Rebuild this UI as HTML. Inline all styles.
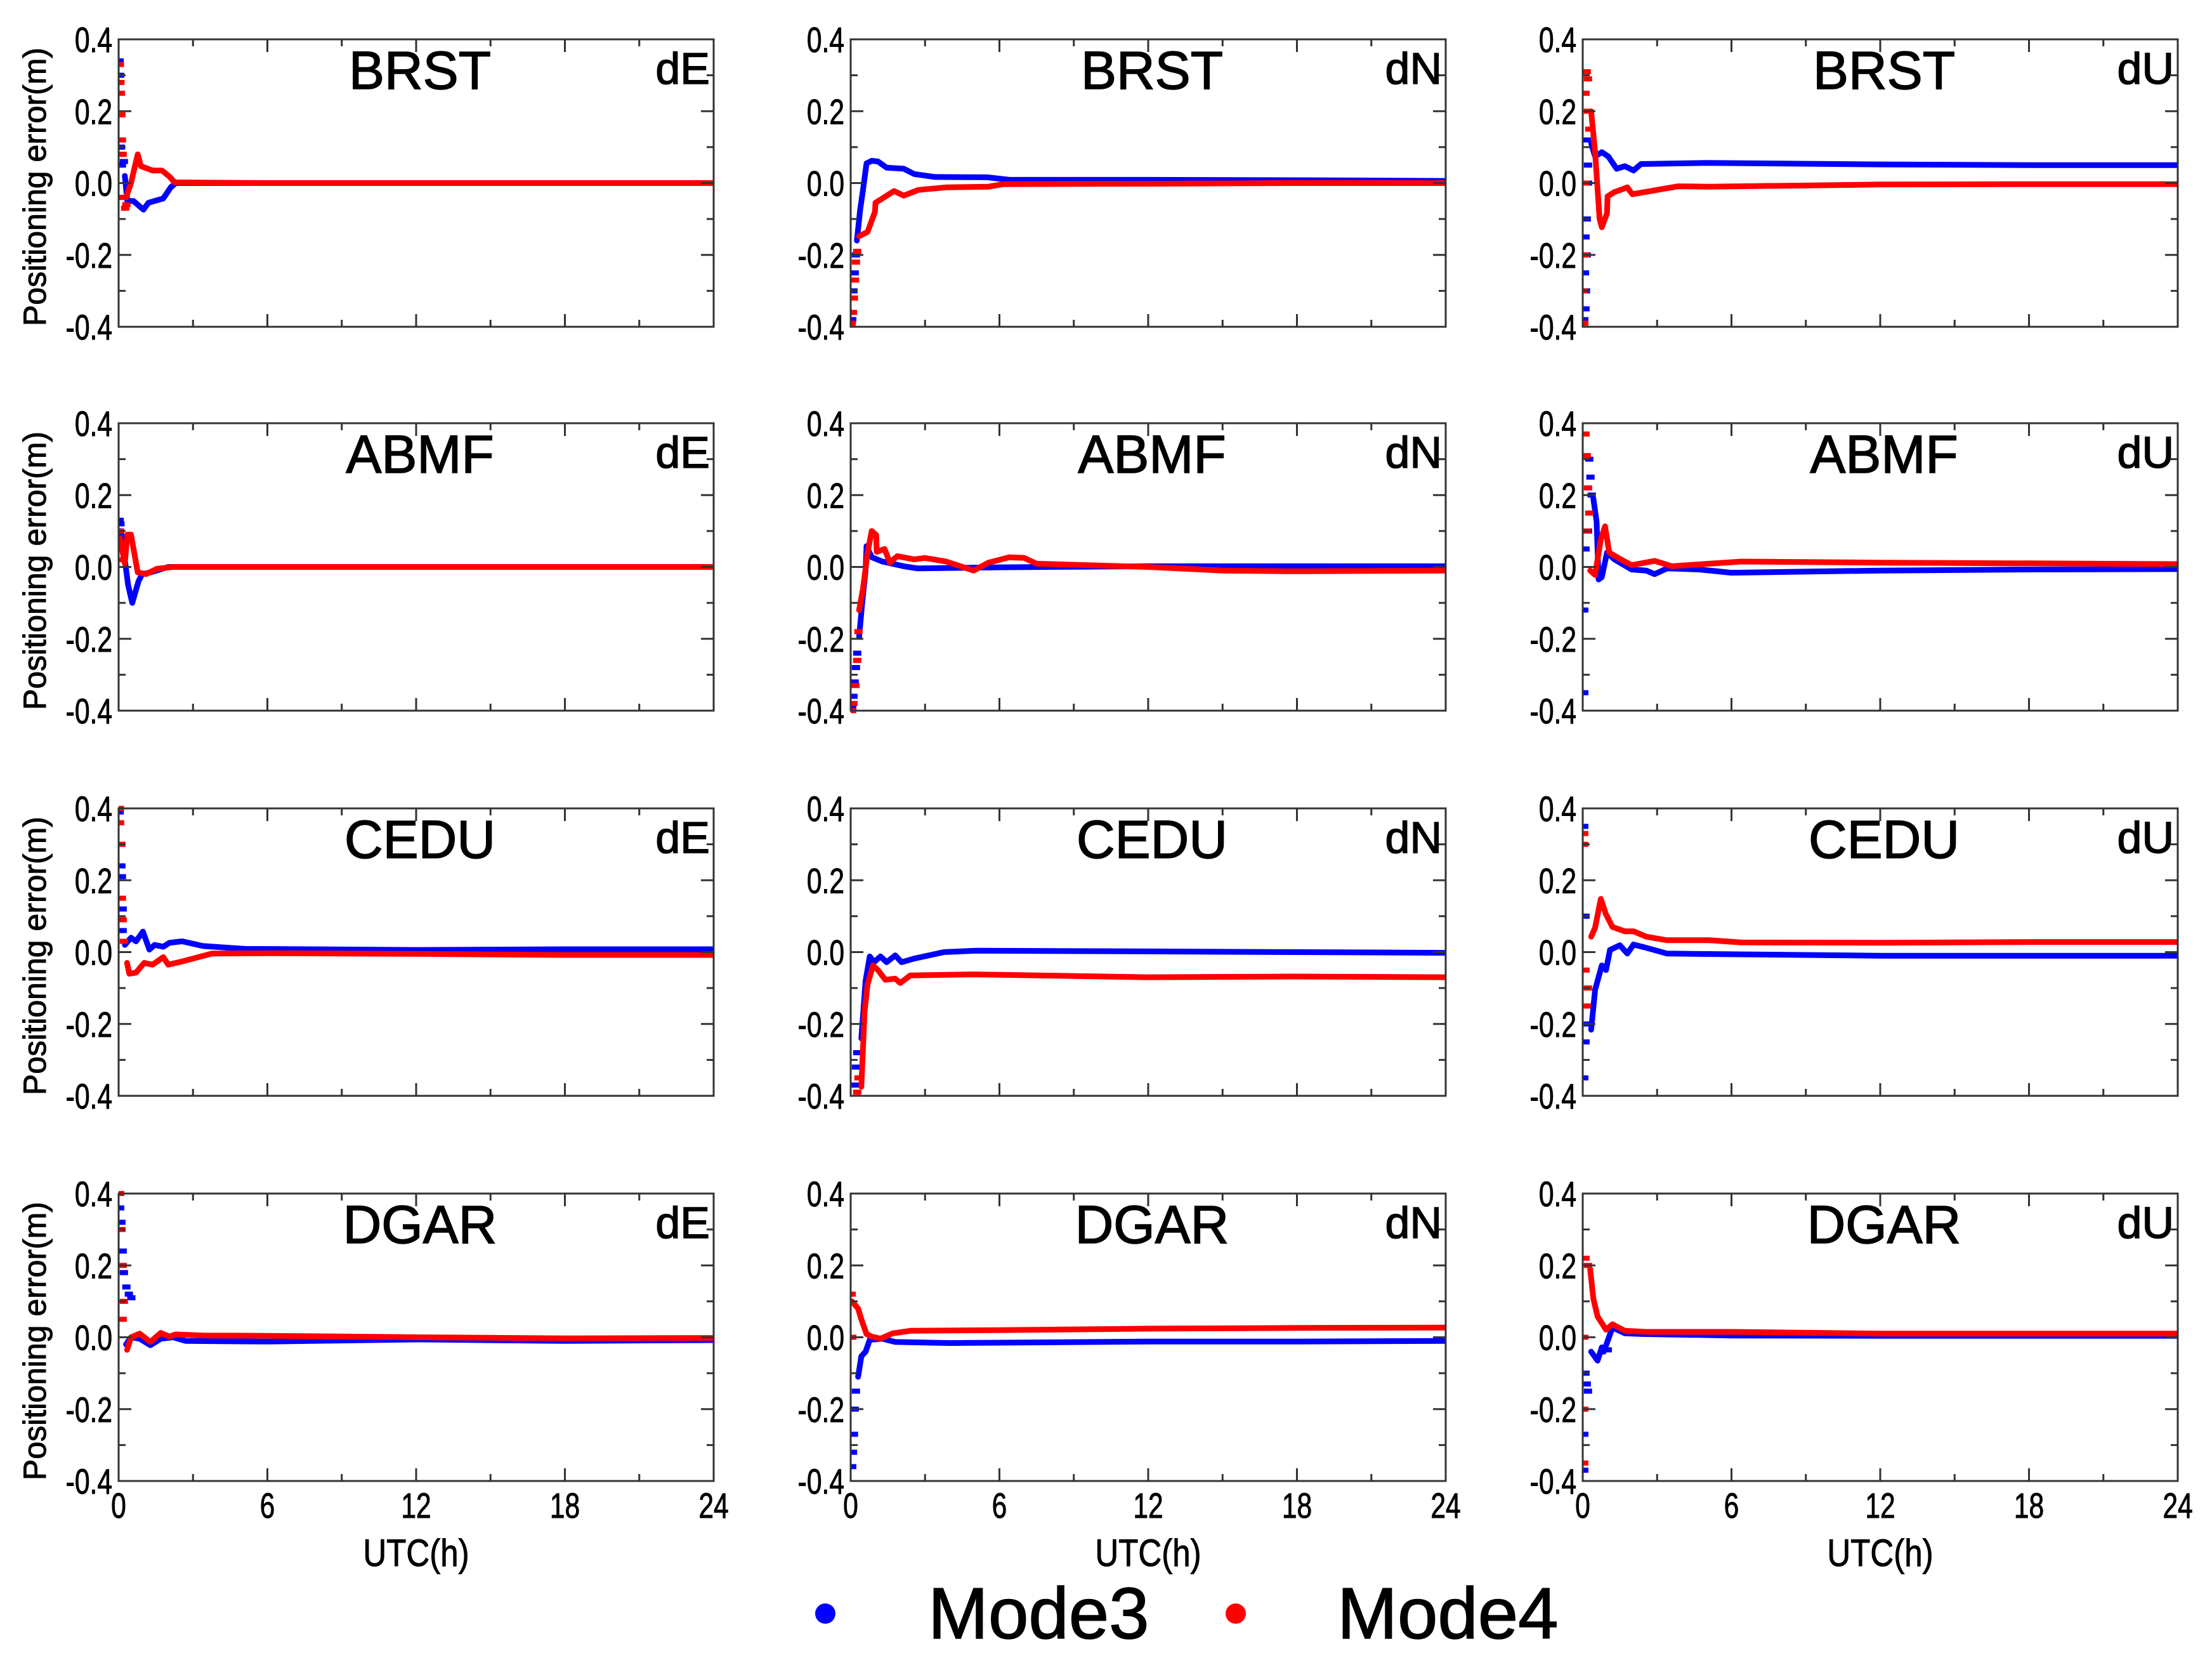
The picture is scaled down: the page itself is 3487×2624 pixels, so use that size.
<!DOCTYPE html>
<html><head><meta charset="utf-8"><style>
html,body{margin:0;padding:0;background:#fff;}
svg{display:block;font-family:"Liberation Sans",sans-serif;}
</style></head><body>
<svg id="fig" width="3487" height="2624" viewBox="0 0 3487 2624" xmlns="http://www.w3.org/2000/svg"></svg>
<script>
// ---- data (t in hours, v in metres) ----
const stations = ["BRST","ABMF","CEDU","DGAR"];
const components = ["dE","dN","dU"];
const xTicks = [0,6,12,18,24];
const xMinorTicks = [3,9,15,21];
const yTicks = [-0.4,-0.2,0.0,0.2,0.4];
const yMinorTicks = [-0.3,-0.1,0.1,0.3];
const yTickLabels = ["-0.4","-0.2","0.0","0.2","0.4"];

// BRST
const brstE_m3 = [[0.25,0.02],[0.35,-0.05],[0.6,-0.05],[1.0,-0.074],[1.2,-0.055],[1.8,-0.043],[2.1,-0.012],[2.3,0],[6,0],[12,0],[18,0],[24,0]];
const brstE_m4 = [[0.3,-0.04],[0.5,0],[0.77,0.08],[0.9,0.047],[1.37,0.035],[1.75,0.035],[2.05,0.018],[2.26,0.002],[6,0],[12,0],[18,0],[24,0]];
const brstE_m3s = [[0.03,0.34],[0.05,0.3],[0.08,0.1],[0.1,0.08],[0.12,0.05],[0.15,-0.04],[0.2,0.06]];
const brstE_m4s = [[0.04,0.33],[0.06,0.28],[0.08,0.25],[0.1,0.19],[0.12,0.12],[0.15,0.08],[0.2,-0.04],[0.25,-0.07],[0.3,-0.06]];
const brstN_m3 = [[0.25,-0.16],[0.38,-0.075],[0.5,-0.018],[0.64,0.055],[0.85,0.062],[1.1,0.06],[1.45,0.043],[2.14,0.04],[2.56,0.025],[3.4,0.017],[5.5,0.016],[6.4,0.009],[12,0.009],[18,0.008],[24,0.006]];
const brstN_m4 = [[0.34,-0.148],[0.68,-0.136],[0.98,-0.08],[1.0,-0.055],[1.28,-0.043],[1.75,-0.022],[2.14,-0.035],[2.73,-0.019],[3.85,-0.012],[5.56,-0.01],[6.15,-0.003],[12,-0.002],[18,0],[24,0]];
const brstN_m3s = [[0.05,-0.38],[0.1,-0.3],[0.15,-0.25],[0.2,-0.2]];
const brstN_m4s = [[0.03,-0.39],[0.08,-0.36],[0.12,-0.32],[0.16,-0.27],[0.2,-0.22],[0.25,-0.19]];
const brstU_m3 = [[0.34,0.11],[0.5,0.074],[0.77,0.086],[1.03,0.074],[1.37,0.04],[1.7,0.047],[2.05,0.035],[2.35,0.053],[5.0,0.056],[12,0.052],[18,0.05],[24,0.05]];
const brstU_m4 = [[0.34,0.2],[0.5,0.086],[0.68,-0.1],[0.77,-0.123],[0.98,-0.084],[1.0,-0.037],[1.28,-0.025],[1.8,-0.012],[2.0,-0.031],[3.0,-0.019],[3.85,-0.009],[5.1,-0.01],[12,-0.004],[18,-0.003],[24,-0.003]];
const brstU_m3s = [[0.05,-0.38],[0.1,-0.35],[0.12,-0.3],[0.08,-0.25],[0.15,-0.2],[0.1,-0.15],[0.15,-0.1],[0.2,0.0],[0.15,0.12],[0.2,0.05]];
const brstU_m4s = [[0.05,-0.39],[0.03,-0.3],[0.1,-0.2],[0.15,0.31],[0.2,0.29],[0.1,0.25],[0.2,0.2],[0.25,0.15],[0.1,0.0]];
// ABMF
const abmfE_m3 = [[0.1,0.1],[0.38,-0.05],[0.55,-0.1],[0.8,-0.04],[0.95,-0.02],[1.3,-0.015],[2.0,0],[6,0],[12,0],[18,0],[24,0]];
const abmfE_m4 = [[0.05,0.08],[0.25,0.01],[0.35,0.09],[0.5,0.09],[0.77,-0.015],[1.1,-0.02],[1.55,-0.005],[2.2,0],[6,0],[12,0],[18,0],[24,0]];
const abmfE_m3s = [[0.03,0.13],[0.06,0.12],[0.1,0.06]];
const abmfE_m4s = [[0.05,0.1],[0.1,0.05],[0.15,0.02]];
const abmfN_m3 = [[0.34,-0.195],[0.47,-0.096],[0.6,-0.01],[0.64,0.058],[0.85,0.027],[1.28,0.015],[2.14,0.002],[2.7,-0.004],[6,-0.001],[12,0.002],[18,0.002],[24,0.002]];
const abmfN_m4 = [[0.34,-0.12],[0.5,-0.06],[0.68,0.04],[0.85,0.1],[1.03,0.089],[1.05,0.042],[1.37,0.05],[1.58,0.012],[1.88,0.03],[2.56,0.021],[2.99,0.025],[3.85,0.015],[4.96,-0.01],[5.56,0.012],[6.4,0.027],[7.0,0.025],[7.5,0.009],[12,0],[15,-0.01],[18,-0.012],[24,-0.01]];
const abmfN_m3s = [[0.05,-0.39],[0.1,-0.36],[0.15,-0.32],[0.2,-0.28],[0.25,-0.24]];
const abmfN_m4s = [[0.04,-0.4],[0.1,-0.38],[0.18,-0.33],[0.25,-0.26],[0.3,-0.18]];
const abmfU_m3 = [[0.43,0.19],[0.56,0.126],[0.64,-0.035],[0.77,-0.028],[0.98,0.04],[1.28,0.021],[1.97,-0.007],[2.56,-0.01],[2.9,-0.02],[3.4,-0.004],[4.7,-0.007],[6.0,-0.016],[12,-0.01],[18,-0.007],[24,-0.006]];
const abmfU_m4 = [[0.3,-0.01],[0.5,-0.022],[0.73,0.077],[0.9,0.113],[1.07,0.04],[1.54,0.021],[1.97,0.005],[2.9,0.017],[3.6,0.002],[5.1,0.009],[6.4,0.015],[12,0.012],[18,0.01],[24,0.008]];
const abmfU_m3s = [[0.05,-0.35],[0.05,-0.12],[0.25,0.3],[0.3,0.25],[0.35,0.2],[0.2,0.1],[0.1,0.05]];
const abmfU_m4s = [[0.1,0.37],[0.15,0.31],[0.2,0.22],[0.25,0.15],[0.15,0.1]];
// CEDU
const ceduE_m3 = [[0.25,0.02],[0.5,0.04],[0.7,0.03],[0.98,0.057],[1.24,0.007],[1.45,0.02],[1.8,0.015],[2.05,0.026],[2.56,0.03],[3.4,0.017],[5.1,0.009],[12,0.006],[18,0.008],[24,0.008]];
const ceduE_m4 = [[0.34,-0.03],[0.43,-0.06],[0.7,-0.057],[1.03,-0.03],[1.37,-0.035],[1.8,-0.014],[2.0,-0.035],[2.56,-0.026],[3.76,-0.004],[6,-0.003],[12,-0.005],[18,-0.008],[24,-0.008]];
const ceduE_m3s = [[0.03,0.39],[0.08,0.3],[0.1,0.24],[0.12,0.21],[0.15,0.12],[0.15,0.06]];
const ceduE_m4s = [[0.04,0.4],[0.05,0.36],[0.1,0.3],[0.12,0.15],[0.15,0.09],[0.2,0.03]];
const ceduN_m3 = [[0.43,-0.24],[0.6,-0.08],[0.77,-0.012],[0.94,-0.028],[1.2,-0.012],[1.45,-0.028],[1.8,-0.009],[2.05,-0.028],[2.56,-0.018],[3.76,0],[5.1,0.004],[12,0.002],[18,0],[24,-0.002]];
const ceduN_m4 = [[0.43,-0.375],[0.56,-0.166],[0.68,-0.09],[0.9,-0.037],[1.1,-0.05],[1.4,-0.077],[1.8,-0.074],[2.0,-0.086],[2.4,-0.065],[4.96,-0.062],[12,-0.07],[18,-0.068],[24,-0.07]];
const ceduN_m3s = [[0.15,-0.37],[0.2,-0.32],[0.25,-0.28]];
const ceduN_m4s = [[0.25,-0.39],[0.3,-0.35]];
const ceduU_m3 = [[0.34,-0.216],[0.5,-0.105],[0.77,-0.037],[0.94,-0.05],[1.1,0.006],[1.5,0.019],[1.8,-0.004],[2.05,0.021],[2.56,0.012],[3.4,-0.004],[6.0,-0.006],[12,-0.01],[18,-0.01],[24,-0.01]];
const ceduU_m4 = [[0.34,0.043],[0.5,0.068],[0.73,0.148],[0.94,0.105],[1.2,0.07],[1.7,0.058],[2.05,0.058],[2.56,0.043],[3.4,0.033],[5.1,0.033],[6.4,0.027],[12,0.026],[18,0.028],[24,0.028]];
const ceduU_m3s = [[0.05,0.35],[0.05,-0.35],[0.1,-0.25],[0.15,-0.2],[0.2,-0.15],[0.1,0.1]];
const ceduU_m4s = [[0.05,0.33],[0.05,0.3],[0.1,-0.05],[0.15,-0.15],[0.2,-0.1]];
// DGAR
const dgarE_m3 = [[0.3,-0.02],[0.5,0],[0.85,-0.004],[1.28,-0.022],[1.7,-0.004],[2.2,0],[2.7,-0.01],[6,-0.012],[12,-0.006],[18,-0.01],[24,-0.008]];
const dgarE_m4 = [[0.34,-0.035],[0.5,0],[0.85,0.01],[1.28,-0.013],[1.7,0.012],[2.05,0.002],[2.3,0.008],[3.4,0.005],[6,0.004],[12,0],[18,-0.003],[24,-0.002]];
const dgarE_m3s = [[0.05,0.36],[0.1,0.32],[0.15,0.24],[0.2,0.18],[0.3,0.14],[0.4,0.12],[0.5,0.11]];
const dgarE_m4s = [[0.05,0.4],[0.1,0.3],[0.15,0.2],[0.2,0.1],[0.15,0.05]];
const dgarN_m3 = [[0.3,-0.11],[0.43,-0.053],[0.6,-0.04],[0.77,-0.007],[1.28,-0.004],[1.8,-0.013],[4.0,-0.016],[12,-0.012],[18,-0.012],[24,-0.01]];
const dgarN_m4 = [[0.05,0.1],[0.3,0.08],[0.43,0.05],[0.64,0.009],[0.85,0.002],[1.2,-0.004],[1.7,0.011],[2.4,0.018],[6,0.02],[12,0.024],[18,0.026],[24,0.027]];
const dgarN_m3s = [[0.05,-0.36],[0.08,-0.32],[0.12,-0.27],[0.15,-0.2],[0.2,-0.15]];
const dgarN_m4s = [[0.03,0.12],[0.05,0.0]];
const dgarU_m3 = [[0.34,-0.04],[0.6,-0.065],[0.77,-0.028],[0.85,-0.04],[1.2,0.027],[1.7,0.011],[2.4,0.009],[6,0.005],[12,0.004],[24,0.004]];
const dgarU_m4 = [[0.3,0.19],[0.43,0.107],[0.6,0.058],[0.94,0.021],[1.2,0.036],[1.7,0.018],[2.56,0.015],[6,0.015],[12,0.01],[18,0.01],[24,0.01]];
const dgarU_m3s = [[0.1,-0.1],[0.15,-0.13],[0.2,-0.15],[0.05,-0.27],[0.05,-0.37],[1.0,-0.035]];
const dgarU_m4s = [[0.1,0.22],[0.2,0.2],[0.05,-0.2],[0.05,-0.35],[0.05,0.0]];

const panelSeries = {
  BRST:{dE:[brstE_m3,brstE_m4,brstE_m3s,brstE_m4s],dN:[brstN_m3,brstN_m4,brstN_m3s,brstN_m4s],dU:[brstU_m3,brstU_m4,brstU_m3s,brstU_m4s]},
  ABMF:{dE:[abmfE_m3,abmfE_m4,abmfE_m3s,abmfE_m4s],dN:[abmfN_m3,abmfN_m4,abmfN_m3s,abmfN_m4s],dU:[abmfU_m3,abmfU_m4,abmfU_m3s,abmfU_m4s]},
  CEDU:{dE:[ceduE_m3,ceduE_m4,ceduE_m3s,ceduE_m4s],dN:[ceduN_m3,ceduN_m4,ceduN_m3s,ceduN_m4s],dU:[ceduU_m3,ceduU_m4,ceduU_m3s,ceduU_m4s]},
  DGAR:{dE:[dgarE_m3,dgarE_m4,dgarE_m3s,dgarE_m4s],dN:[dgarN_m3,dgarN_m4,dgarN_m3s,dgarN_m4s],dU:[dgarU_m3,dgarU_m4,dgarU_m3s,dgarU_m4s]}
};

// ---- layout ----
const NS = "http://www.w3.org/2000/svg";
const svg = document.getElementById('fig');
const colLeft = [187,1341,2495], plotW = 938;
const rowTop = [62,667,1274,1881], plotH = 453;
const BLUE = "#0000ff", RED = "#ff0000";

function mk(tag, attrs, parent){
  const e = document.createElementNS(NS, tag);
  for (const k in attrs) e.setAttribute(k, attrs[k]);
  (parent||svg).appendChild(e);
  return e;
}
function condText(parent, x, y, str, size, anchor, sx){
  const t = mk('text', {transform:`translate(${x},${y}) scale(${sx},1)`, 'font-size':size, 'text-anchor':anchor, fill:'#000', stroke:'#000', 'stroke-width':1}, parent);
  t.textContent = str;
  return t;
}

stations.forEach((st, r) => {
  components.forEach((comp, c) => {
    const x0 = colLeft[c], y0 = rowTop[r];
    const xs = t => x0 + t / 24 * plotW;
    const ys = v => y0 + (0.4 - v) / 0.8 * plotH;
    const g = mk('g', {});
    
    

    const clipId = `clip-${r}-${c}`;
    const cp = mk('clipPath', {id: clipId}, g);
    mk('rect', {x:x0, y:y0-6, width:plotW, height:plotH+12}, cp);

    const [m3, m4, m3s, m4s] = panelSeries[st][comp];
    const dg = mk('g', {'clip-path':`url(#${clipId})`}, g);
    
    

    function drawSeries(line, scat, color, name){
      scat.forEach(p => {
        const rr = mk('rect', {x: xs(p[0]) - 6, y: ys(p[1]) - 4, width: 13, height: 8, fill: color}, dg);
        
        
      });
      const pl = mk('polyline', {points: line.map(p => xs(p[0]).toFixed(1) + ',' + ys(p[1]).toFixed(1)).join(' '), fill:'none', stroke:color, 'stroke-width':9, 'stroke-linejoin':'round', 'stroke-linecap':'round'}, dg);
      
      
    }
    drawSeries(m3, m3s, BLUE, 'mode3');
    drawSeries(m4, m4s, RED, 'mode4');

    const fr = mk('rect', {x:x0, y:y0, width:plotW, height:plotH, fill:'none', stroke:'#333', 'stroke-width':3}, g);
    
    

    xTicks.forEach(t => {
      mk('line', {x1:xs(t), x2:xs(t), y1:y0+plotH, y2:y0+plotH-20, stroke:'#333','stroke-width':3}, g);
      mk('line', {x1:xs(t), x2:xs(t), y1:y0, y2:y0+20, stroke:'#333','stroke-width':3}, g);
    });
    xMinorTicks.forEach(t => {
      mk('line', {x1:xs(t), x2:xs(t), y1:y0+plotH, y2:y0+plotH-11, stroke:'#333','stroke-width':3}, g);
      mk('line', {x1:xs(t), x2:xs(t), y1:y0, y2:y0+11, stroke:'#333','stroke-width':3}, g);
    });
    yTicks.forEach((v, i) => {
      mk('line', {x1:x0, x2:x0+20, y1:ys(v), y2:ys(v), stroke:'#333','stroke-width':3}, g);
      mk('line', {x1:x0+plotW, x2:x0+plotW-20, y1:ys(v), y2:ys(v), stroke:'#333','stroke-width':3}, g);
      const tl = condText(g, x0 - 10, ys(v) + 20, yTickLabels[i], 56, 'end', 0.76);
      
      
    });
    yMinorTicks.forEach(v => {
      mk('line', {x1:x0, x2:x0+11, y1:ys(v), y2:ys(v), stroke:'#333','stroke-width':3}, g);
      mk('line', {x1:x0+plotW, x2:x0+plotW-11, y1:ys(v), y2:ys(v), stroke:'#333','stroke-width':3}, g);
    });
    if (r === stations.length - 1) {
      xTicks.forEach(t => {
        const xl = condText(g, xs(t), y0 + plotH + 58, String(t), 56, 'middle', 0.76);
        
        
      });
      const xt = condText(g, x0 + plotW/2, y0 + plotH + 134, 'UTC(h)', 60, 'middle', 0.85);
      
      
    }
    if (c === 0) {
      const yt = mk('text', {transform:`translate(72,${y0 + plotH/2 + 6}) rotate(-90)`, 'font-size':50, 'text-anchor':'middle', fill:'#000', stroke:'#000', 'stroke-width':1}, g);
      yt.textContent = 'Positioning error(m)';
      
      
    }
    const sl = mk('text', {x: x0 + plotW/2 + 6, y: y0 + 78, 'font-size':84, 'text-anchor':'middle', fill:'#000', stroke:'#000', 'stroke-width':1.5}, g);
    sl.textContent = st;
    
    
    const cl = mk('text', {x: x0 + plotW - 6, y: y0 + 70, 'font-size':70, 'text-anchor':'end', fill:'#000', stroke:'#000', 'stroke-width':1.5}, g);
    cl.textContent = comp;
    
    
  });
});

// legend
const lg = mk('g', {});


const d3 = mk('circle', {cx:1301, cy:2543, r:16, fill:BLUE}, lg);


const t3 = mk('text', {x:1463, y:2582, 'font-size':114, fill:'#000', stroke:'#000', 'stroke-width':1.5}, lg);
t3.textContent = 'Mode3';


const d4 = mk('circle', {cx:1948, cy:2543, r:16, fill:RED}, lg);


const t4 = mk('text', {x:2108, y:2582, 'font-size':114, fill:'#000', stroke:'#000', 'stroke-width':1.5}, lg);
t4.textContent = 'Mode4';


</script>
</body></html>
